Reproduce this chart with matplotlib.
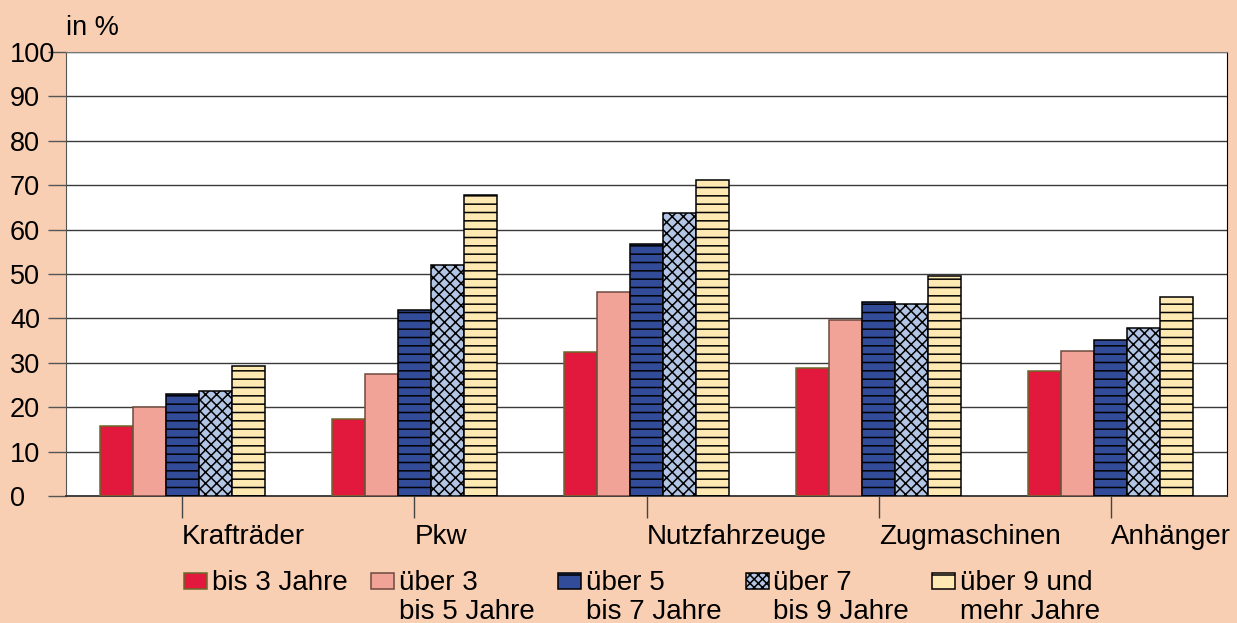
import matplotlib
matplotlib.use("Agg")
import matplotlib.pyplot as plt
from matplotlib.patches import Rectangle
import numpy as np

plt.rcParams['font.family'] = ['Liberation Sans', 'DejaVu Sans']
plt.rcParams['hatch.linewidth'] = 1.1

categories = ["Krafträder", "Pkw", "Nutzfahrzeuge", "Zugmaschinen", "Anhänger"]
series_labels = [("bis 3 Jahre", ""), ("über 3", "bis 5 Jahre"), ("über 5", "bis 7 Jahre"),
                 ("über 7", "bis 9 Jahre"), ("über 9 und", "mehr Jahre")]
bis3 = [15.8, 17.3, 32.4, 28.8, 28.2]
ueber3 = [20.0, 27.5, 45.9, 39.6, 32.6]
ueber5 = [23.0, 42.0, 56.8, 43.7, 35.1]
ueber7 = [23.6, 52.0, 63.7, 43.2, 37.8]
ueber9 = [29.3, 67.8, 71.2, 49.5, 44.8]
yticks = [0, 10, 20, 30, 40, 50, 60, 70, 80, 90, 100]

series = [bis3, ueber3, ueber5, ueber7, ueber9]
faces = ['#E2193C', '#F2A398', '#334C99', '#B3C5E4', '#FFE9B3']
edges = ['#6B6A2C', '#6E4A3E', '#000000', '#000000', '#000000']
hatches = [None, None, '--', 'xxx', '--']

bg = '#F9CFB3'
W, H = 1237, 623
fig = plt.figure(figsize=(W / 100, H / 100), dpi=100, facecolor=bg)
ax = fig.add_axes([66 / W, 1 - 496 / H, (1227 - 66) / W, (496 - 52) / H])
ax.set_facecolor('white')

x = np.arange(len(categories))
bw = 0.142
for i, (vals, fc, ec, h) in enumerate(zip(series, faces, edges, hatches)):
    ax.bar(x + (i - 2) * bw, vals, width=bw, color=fc, edgecolor=ec,
           linewidth=1.1, hatch=h, zorder=3)

ax.set_xlim(-0.5, len(categories) - 0.5)
ax.set_ylim(0, 100)
ax.set_yticks(yticks)
ax.set_yticklabels([str(v) for v in yticks])
ax.yaxis.grid(True, color='#3a3a3a', linewidth=1.0, zorder=1)
ax.set_axisbelow(True)

ax.tick_params(axis='y', direction='out', length=13, width=1, color='#555555',
               labelsize=19.5, pad=27.4)
for lbl in ax.get_yticklabels():
    lbl.set_horizontalalignment('left')

ax.set_xticks(x)
ax.set_xticklabels(categories)
ax.tick_params(axis='x', direction='out', length=16, width=1, color='#444444',
               labelsize=20, pad=4)
for lbl in ax.get_xticklabels():
    lbl.set_horizontalalignment('left')

for s in ['left']:
    ax.spines[s].set_color('#555555')
ax.spines['bottom'].set_color('#333333')
ax.spines['bottom'].set_linewidth(1.3)
ax.spines['right'].set_color('#000000')
ax.spines['top'].set_color('#777777')

fig.text(66 / W, 1 - 28 / H, "in %", fontsize=19.5, ha='left', va='center')

# legend
hx = [184, 371, 558, 746, 932]
tx = [212, 399, 586, 773, 960]
for i in range(5):
    r = Rectangle((hx[i] / W, 1 - 589 / H), 23 / W, 16 / H, transform=fig.transFigure,
                  facecolor=faces[i], edgecolor=edges[i], linewidth=1.1,
                  hatch=('-' if hatches[i] == '--' else ('xxxx' if hatches[i] else None)))
    fig.add_artist(r)
    l1, l2 = series_labels[i]
    fig.text(tx[i] / W, 1 - 590 / H, l1, fontsize=20, ha='left', va='baseline')
    if l2:
        fig.text(tx[i] / W, 1 - 619 / H, l2, fontsize=20, ha='left', va='baseline')

fig.savefig("out.png", dpi=100, facecolor=bg)
